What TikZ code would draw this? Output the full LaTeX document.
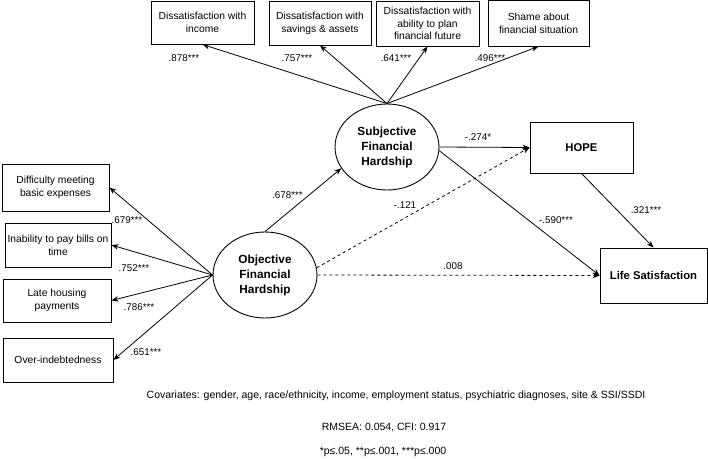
\documentclass[tikz,border=0pt]{standalone}
\usepackage{fontspec}
\setmainfont{Liberation Sans}
\usetikzlibrary{arrows.meta,shapes.geometric}

\begin{document}
\begin{tikzpicture}[x=1pt,y=-1pt,
		caja/.style={draw,line width=0.9pt,align=center,inner sep=1pt,font=\fontsize{10.3}{12.8}\selectfont},
		latente/.style={draw,ellipse,line width=0.9pt,minimum width=104pt,minimum height=86pt,inner sep=0pt,align=center,font=\fontsize{11.8}{15}\selectfont\bfseries},
		flecha/.style={-{Stealth[length=7pt,width=5.5pt]},line width=0.8pt},
		coef/.style={font=\fontsize{9.8}{11}\selectfont,inner sep=0pt},
		nota/.style={font=\fontsize{10.5}{12}\selectfont,inner sep=0pt}]
		\useasboundingbox (0,0) rectangle (708,458);

		%%% Indicadores subjetivos (arriba)
		\node[caja,minimum width=103pt,minimum height=43pt] (ingreso) at (202.5,22.5) {Dissatisfaction with\\income};
		\node[caja,minimum width=102pt,minimum height=44pt] (ahorro) at (320,23) {Dissatisfaction with\\savings \& assets};
		\node[caja,minimum width=103pt,minimum height=45pt] (futuro) at (427.5,23.5) {Dissatisfaction with\\ability to plan\\financial future};
		\node[caja,minimum width=101pt,minimum height=46pt] (verguenza) at (538.5,23) {Shame about\\financial situation};

		%%% Indicadores objetivos (izquierda)
		\node[caja,minimum width=107pt,minimum height=47pt] (gastos) at (55.5,187.5) {Difficulty meeting\\basic expenses};
		\node[caja,minimum width=106pt,minimum height=44pt] (facturas) at (58,245) {Inability to pay bills on\\time};
		\node[caja,minimum width=108pt,minimum height=43pt] (vivienda) at (57,300.5) {Late housing\\payments};
		\node[caja,minimum width=110pt,minimum height=44pt] (deuda) at (58,360) {Over-indebtedness};

		%%% Variables latentes y resultados
		\node[latente] (subj) at (387,147) {Subjective\\Financial\\Hardship};
		\node[latente] (obj) at (265,275) {Objective\\Financial\\Hardship};
		\node[caja,minimum width=103pt,minimum height=51pt,font=\fontsize{11.3}{13}\selectfont\bfseries] (hope) at (581.5,147.5) {HOPE};
		\node[caja,minimum width=107pt,minimum height=55pt,font=\fontsize{11.3}{13}\selectfont\bfseries] (vida) at (653.5,275.5) {Life Satisfaction};

		%%% Cargas factoriales
		\foreach \ind in {ingreso,ahorro,futuro,verguenza}
			\draw[flecha] (subj.north) -- (\ind.south);
		\foreach \ind in {gastos,facturas,vivienda,deuda}
			\draw[flecha] (obj.west) -- (\ind.east);

		\node[coef] (c1) at (184,58) {.878***};
		\node[coef] (c2) at (297,58) {.757***};
		\node[coef] (c3) at (396,58) {.641***};
		\node[coef] (c4) at (490,58) {.496***};
		\node[coef] (c5) at (127,220) {.679***};
		\node[coef] (c6) at (134,268) {.752***};
		\node[coef] (c7) at (139,307) {.786***};
		\node[coef] (c8) at (146,352) {.651***};

		%%% Caminos estructurales
		\draw[flecha] (obj.north) -- (subj.205);
		\draw[flecha] (subj.east) -- (hope.west);
		\draw[flecha] (subj.-4) -- (vida.west);
		\draw[flecha,dashed] (obj.8) -- (hope.west);
		\draw[flecha,dashed] (obj.east) -- (vida.west);
		\draw[flecha] (hope.south) -- (vida.north);

		\node[coef] (p1) at (287.5,195) {.678***};
		\node[coef] (p2) at (478,137) {-.274*};
		\node[coef] (p3) at (405,205) {-.121};
		\node[coef] (p4) at (556,220) {-.590***};
		\node[coef] (p5) at (453,266) {.008};
		\node[coef] (p6) at (646,210) {.321***};

		%%% Notas
		\node[nota] (cov) at (396,396) {Covariates: gender, age, race/ethnicity, income, employment status, psychiatric diagnoses, site \& SSI/SSDI};
		\node[nota] (ajuste) at (384,427) {RMSEA: 0.054, CFI: 0.917};
		\node[nota] (sig) at (383,452) {*p≤.05, **p≤.001, ***p≤.000};
	\end{tikzpicture}
\end{document}
